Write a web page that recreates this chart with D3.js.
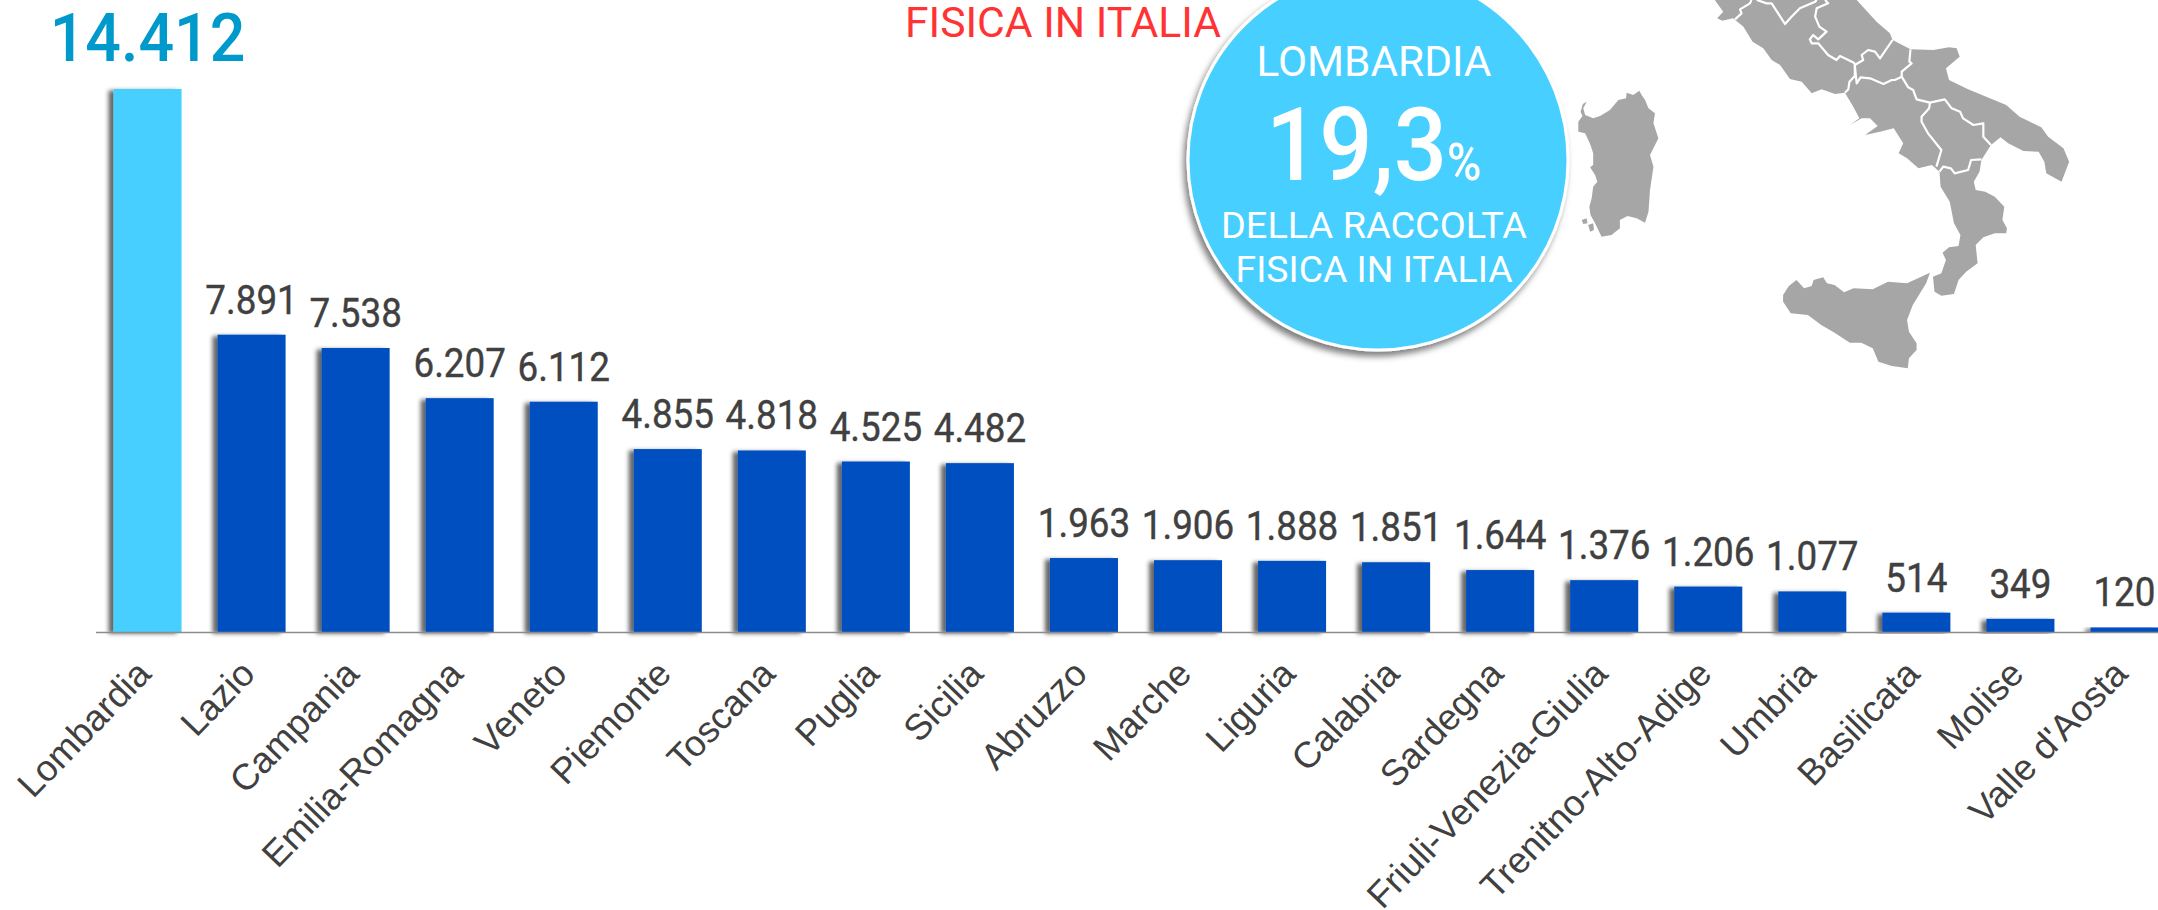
<!DOCTYPE html>
<html>
<head>
<meta charset="utf-8">
<script src="https://d3js.org/d3.v7.min.js"></script>
<style>
html, body { margin: 0; padding: 0; background: #fff; overflow: hidden; }
svg { display: block; }
</style>
</head>
<body>
<svg id="chart" width="2158" height="910"></svg>
<script>
const regions = ['Lombardia', 'Lazio', 'Campania', 'Emilia-Romagna', 'Veneto', 'Piemonte', 'Toscana', 'Puglia', 'Sicilia', 'Abruzzo', 'Marche', 'Liguria', 'Calabria', 'Sardegna', 'Friuli-Venezia-Giulia', 'Trenitno-Alto-Adige', 'Umbria', 'Basilicata', 'Molise', "Valle d'Aosta"];
const values = [14412, 7891, 7538, 6207, 6112, 4855, 4818, 4525, 4482, 1963, 1906, 1888, 1851, 1644, 1376, 1206, 1077, 514, 349, 120];

// map outline
const mainland = [[406,0],[428,35],[412,55],[426,62],[454,55],[481,80],[505,125],[533,145],[555,180],[577,195],[603,237],[634,245],[660,280],[686,268],[721,282],[747,278],[769,320],[785,355],[760,375],[791,355],[813,355],[833,378],[800,405],[839,395],[875,385],[900,430],[888,460],[910,475],[940,505],[975,495],[995,515],[998,560],[1022,605],[1033,670],[1050,705],[1045,738],[1020,742],[1003,758],[1012,780],[1000,820],[978,830],[982,875],[1000,887],[1033,882],[1045,840],[1065,815],[1095,790],[1090,735],[1110,712],[1140,700],[1170,700],[1172,685],[1160,660],[1165,620],[1140,590],[1115,575],[1090,570],[1085,545],[1100,515],[1105,480],[1130,435],[1155,412],[1175,430],[1215,453],[1255,455],[1270,485],[1275,520],[1315,545],[1335,485],[1320,445],[1280,410],[1262,382],[1205,350],[1170,315],[1070,268],[1020,240],[1012,205],[1048,170],[1040,145],[1020,142],[979,150],[919,148],[872,120],[865,100],[830,65],[778,0]];
const sardinia = [[70,305],[60,312],[54,335],[59,348],[48,365],[48,395],[66,400],[80,435],[87,460],[87,495],[79,502],[92,525],[98,545],[87,560],[83,595],[77,620],[80,645],[92,670],[109,710],[135,705],[157,685],[157,660],[177,648],[201,655],[223,668],[232,635],[236,570],[245,500],[236,465],[258,415],[245,370],[249,340],[232,325],[223,300],[214,285],[208,272],[192,285],[175,278],[173,295],[153,300],[131,330],[105,348],[87,355],[66,345],[61,325]];
const sicily = [[620,840],[640,865],[660,858],[665,840],[690,832],[700,850],[720,855],[745,877],[770,865],[820,868],[860,845],[910,850],[970,818],[960,850],[925,915],[910,960],[915,995],[935,1030],[935,1050],[915,1075],[912,1105],[870,1098],[835,1085],[820,1045],[790,1028],[760,1028],[720,998],[685,975],[650,945],[605,940],[585,905],[585,885],[600,858]];
const isletA = [[57,660],[70,655],[72,670],[61,672]];
const isletB = [[74,675],[87,670],[89,690],[79,695]];
const borders = [
    [[459,58],[476,40],[472,28],[498,10],[502,0]],
    [[516,0],[542,10],[555,10],[572,40],[590,72],[607,50],[629,25],[669,5],[673,0]],
    [[695,0],[703,10],[673,25],[669,50],[680,80],[699,95],[677,118],[664,105],[655,118],[660,130],[677,130],[703,165],[725,180],[734,168],[752,178],[773,190]],
    [[773,190],[773,228],[759,245],[756,268],[747,278]],
    [[872,120],[839,175],[826,155],[808,150],[791,165],[795,180],[773,195]],
    [[919,148],[916,185],[922,190],[896,215],[896,230]],
    [[773,195],[776,230],[778,250],[788,232],[813,235],[848,252],[870,240],[878,240],[896,230]],
    [[896,230],[913,262],[926,270],[935,298],[970,308]],
    [[970,308],[1009,298],[1027,325],[1049,335],[1057,355],[1084,375],[1110,370],[1110,410],[1130,435]],
    [[970,308],[968,325],[948,350],[948,365],[965,400],[1000,450],[987,500]],
    [[995,515],[1005,500],[1025,505],[1035,520],[1070,510],[1078,480],[1105,478]]
];

const BASE_Y = 632;
const TOP_Y = 89;
const AXIS_LEFT = 95.5;
const STEP = 104.05;

const svg = d3.select('#chart');

const defs = svg.append('defs');
const barShadow = defs.append('filter').attr('id', 'barShadow')
    .attr('x', '-30%').attr('y', '-10%').attr('width', '140%').attr('height', '120%');
barShadow.append('feDropShadow').attr('dx', -5).attr('dy', 1.5).attr('stdDeviation', 2.2)
    .attr('flood-color', '#000').attr('flood-opacity', 0.6);
const circleShadow = defs.append('filter').attr('id', 'circleShadow')
    .attr('x', '-20%').attr('y', '-20%').attr('width', '140%').attr('height', '140%');
circleShadow.append('feDropShadow').attr('dx', -3).attr('dy', 5).attr('stdDeviation', 3)
    .attr('flood-color', '#000').attr('flood-opacity', 0.5);

const x = d3.scaleBand()
    .domain(regions)
    .range([AXIS_LEFT, AXIS_LEFT + STEP * regions.length])
    .paddingInner(36 / 104)
    .paddingOuter(18 / 104);
const y = d3.scaleLinear().domain([0, d3.max(values)]).range([BASE_Y, TOP_Y]);
const fmt = d3.formatLocale({ decimal: ',', thousands: '.', grouping: [3], currency: ['', ''] }).format(',d');

// squeeze a text horizontally, the reference type is a bit condensed
const squeeze = (sel, k) => sel.each(function () {
    const w = this.getComputedTextLength();
    d3.select(this).attr('textLength', w * k).attr('lengthAdjust', 'spacingAndGlyphs');
});

// mappa
const mapX = d3.scaleLinear().domain([0, 1568]).range([1560, 2158]);
const mapY = d3.scaleLinear().domain([0, 1140]).range([0, 380]);
const mapLine = d3.line().x(d => mapX(d[0])).y(d => mapY(d[1]));
const mapG = svg.append('g');
[mainland, sardinia, sicily, isletA, isletB].forEach(shape => {
    mapG.append('path').attr('d', mapLine(shape) + 'Z').attr('fill', '#a6a6a6');
});
borders.forEach(b => {
    mapG.append('path').attr('d', mapLine(b)).attr('fill', 'none').attr('stroke', '#fff')
        .attr('stroke-width', 2.2).attr('stroke-linejoin', 'round');
});

// barre
svg.append('g').selectAll('rect').data(regions).join('rect')
    .attr('x', d => x(d))
    .attr('y', (d, i) => y(values[i]))
    .attr('width', x.bandwidth())
    .attr('height', (d, i) => BASE_Y - y(values[i]))
    .attr('fill', (d, i) => i === 0 ? '#47cfff' : '#004fc0')
    .attr('filter', 'url(#barShadow)');

// asse
const axisG = svg.append('g')
    .attr('transform', `translate(0,${BASE_Y})`)
    .call(d3.axisBottom(x).tickSize(0));
axisG.select('.domain').attr('stroke', '#8c8c8c').attr('stroke-width', 1.5);
axisG.selectAll('text')
    .attr('font-family', '"Liberation Sans", Arial, sans-serif')
    .attr('font-size', 36.5)
    .attr('fill', '#404040')
    .attr('text-anchor', 'end')
    .attr('dy', 0)
    .attr('x', 9)
    .attr('y', 0)
    .attr('transform', 'translate(-1,50) rotate(-46)');

// etichette valori
svg.append('g').selectAll('text').data(regions).join('text')
    .text((d, i) => fmt(values[i]))
    .attr('x', d => x(d) + x.bandwidth() / 2)
    .attr('y', (d, i) => y(values[i]) - (i === 0 ? 28 : 21))
    .attr('text-anchor', 'middle')
    .attr('font-family', 'Roboto, sans-serif')
    .attr('font-size', (d, i) => i === 0 ? 66 : 40)
    .attr('font-weight', (d, i) => i === 0 ? 500 : 400)
    .attr('stroke', (d, i) => i === 0 ? 'none' : '#404040')
    .attr('stroke-width', 0.4)
    .attr('fill', (d, i) => i === 0 ? '#0099cc' : '#404040')
    .each(function (d, i) {
        squeeze(d3.select(this), i === 0 ? 0.95 : 0.92);
    });

// titolo tagliato in alto
svg.append('text').text('FISICA IN ITALIA')
    .attr('x', 905).attr('y', 36.5)
    .attr('font-family', 'Roboto, sans-serif').attr('font-size', 42)
    .attr('fill', '#ff3333')
    .attr('textLength', 316).attr('lengthAdjust', 'spacingAndGlyphs');

// cerchio Lombardia
const callout = svg.append('g');
callout.append('circle').attr('cx', 1378).attr('cy', 160).attr('r', 190)
    .attr('fill', '#47cfff').attr('stroke', '#fff').attr('stroke-width', 3)
    .attr('filter', 'url(#circleShadow)');
const calloutText = (txt, xx, yy, size, len, weight) => callout.append('text').text(txt)
    .attr('x', xx).attr('y', yy).attr('text-anchor', 'middle')
    .attr('font-family', 'Roboto, sans-serif').attr('font-size', size).attr('font-weight', weight)
    .attr('fill', '#fff').attr('textLength', len).attr('lengthAdjust', 'spacingAndGlyphs');
calloutText('LOMBARDIA', 1374, 76, 42, 235, 400);
calloutText('DELLA RACCOLTA', 1374, 238, 37, 306, 400);
calloutText('FISICA IN ITALIA', 1374, 282, 37, 277, 400);
const big = callout.append('text')
    .attr('transform', 'translate(1266,180) scale(0.92,1)')
    .attr('font-family', 'Roboto, sans-serif').attr('font-weight', 500).attr('fill', '#fff');
big.append('tspan').text('19,3').attr('font-size', 102);
big.append('tspan').text('%').attr('font-size', 51);
</script>
</body>
</html>
